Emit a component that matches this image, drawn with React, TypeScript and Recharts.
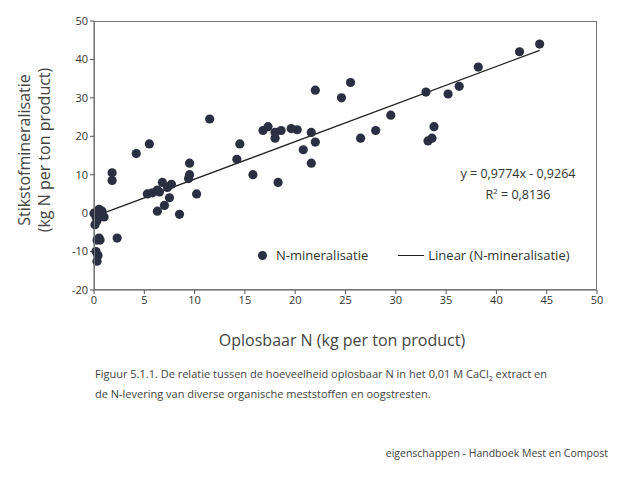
import { XAxis, YAxis, Line, Scatter, ComposedChart } from "recharts";

const xValues = [0, 0.2, 0.3, 0.1, 0.5, 0.8, 1, 0.3, 0.5, 0.2, 0.4, 0.3, 0.6, 1.8, 1.8, 2.3, 4.2, 5.5, 5.3, 5.8, 6.3, 6.5, 6.8, 7.3, 7.7, 7.5, 7, 6.3, 8.5, 9.5, 9.5, 9.4, 10.2, 11.5, 14.2, 14.5, 15.8, 16.8, 17.3, 18, 18, 18.3, 18.6, 19.6, 20.2, 20.8, 21.6, 21.6, 22, 22, 24.6, 25.5, 26.5, 28, 29.5, 33, 33.2, 33.6, 33.8, 35.2, 36.3, 38.2, 42.3, 44.3];
const yValues = [0, -1, -2, -3, 1, 0.5, -1, -7, -6.5, -10, -11, -12.5, -7, 10.5, 8.5, -6.5, 15.5, 18, 5, 5.3, 6, 5.5, 8, 6.7, 7.5, 4, 2, 0.5, -0.3, 13, 10, 9, 5, 24.5, 14, 18, 10, 21.5, 22.5, 21, 19.5, 8, 21.5, 22, 21.7, 16.5, 21, 13, 32, 18.5, 30, 34, 19.5, 21.5, 25.5, 31.5, 18.8, 19.5, 22.5, 31, 33, 38, 42, 44];
const xTicks = [0, 5, 10, 15, 20, 25, 30, 35, 40, 45, 50];
const yTicks = [-20, -10, 0, 10, 20, 30, 40, 50];
const slope = 0.9774;
const intercept = -0.9264;
const trendX = [0, 44.3];

const points = xValues.map((x, i) => ({ x, y: yValues[i] }));
const trend = trendX.map((x) => ({ x, t: slope * x + intercept }));

const ink = "#2b2f42";
const font = "'Open Sans', sans-serif";

const Dot = (p: any) => <circle cx={p.cx} cy={p.cy} r={4.6} fill={ink} />;

export default function App() {
  return (
    <div style={{ position: "absolute", left: 0, top: 0, width: 642, height: 480, background: "#fff", fontFamily: font, color: "#333" }}>
      <ComposedChart width={642} height={480} margin={{ top: 21, right: 45, left: 58, bottom: 160 }}>
        <XAxis
          type="number"
          dataKey="x"
          domain={[0, 50]}
          ticks={xTicks}
          stroke="#555"
          tick={{ fontSize: 11, fill: "#333", fontFamily: font }}
          tickSize={4}
          height={30}
        />
        <YAxis
          type="number"
          domain={[-20, 50]}
          ticks={yTicks}
          stroke="#555"
          tick={{ fontSize: 11, fill: "#333", fontFamily: font }}
          tickSize={4}
          width={36}
        />
        <Scatter data={points} dataKey="y" shape={Dot} isAnimationActive={false} />
        <Line data={trend} dataKey="t" type="linear" stroke="#222" strokeWidth={1.3} dot={false} isAnimationActive={false} />
      </ComposedChart>
      <div style={{ position: "absolute", left: 94, top: 21, width: 503, height: 269, border: "1px solid #777", boxSizing: "border-box", pointerEvents: "none" }} />
      <div style={{ position: "absolute", left: 34, top: 150, transform: "translate(-50%,-50%) rotate(-90deg)", whiteSpace: "nowrap", textAlign: "center", fontSize: 16, lineHeight: "20px", color: "#444" }}>
        Stikstofmineralisatie<br />(kg N per ton product)
      </div>
      <div style={{ position: "absolute", left: 342, top: 329, transform: "translateX(-50%)", whiteSpace: "nowrap", fontSize: 16, color: "#444" }}>
        Oplosbaar N (kg per ton product)
      </div>
      <div style={{ position: "absolute", left: 518, top: 163, transform: "translateX(-50%)", textAlign: "center", fontSize: 12.5, lineHeight: "21px", whiteSpace: "nowrap" }}>
        y = 0,9774x - 0,9264<br />R<sup style={{ fontSize: 8, lineHeight: 0 }}>2</sup> = 0,8136
      </div>
      <div style={{ position: "absolute", left: 258, top: 246, fontSize: 13, whiteSpace: "nowrap", display: "flex", alignItems: "center" }}>
        <span style={{ width: 9, height: 9, borderRadius: "50%", background: ink, display: "inline-block", marginRight: 9 }} />
        N-mineralisatie
        <span style={{ width: 26, height: 0, borderTop: "1.3px solid #222", display: "inline-block", margin: "0 4px 0 30px" }} />
        Linear (N-mineralisatie)
      </div>
      <div style={{ position: "absolute", left: 95, top: 364, fontSize: 11, lineHeight: "20px", color: "#444", whiteSpace: "nowrap" }}>
        Figuur 5.1.1. De relatie tussen de hoeveelheid oplosbaar N in het 0,01 M CaCl<sub style={{ fontSize: 7, lineHeight: 0 }}>2</sub> extract en<br />
        de N-levering van diverse organische meststoffen en oogstresten.
      </div>
      <div style={{ position: "absolute", right: 34, top: 446, fontSize: 10.5, color: "#444", whiteSpace: "nowrap" }}>
        eigenschappen - Handboek Mest en Compost
      </div>
    </div>
  );
}
